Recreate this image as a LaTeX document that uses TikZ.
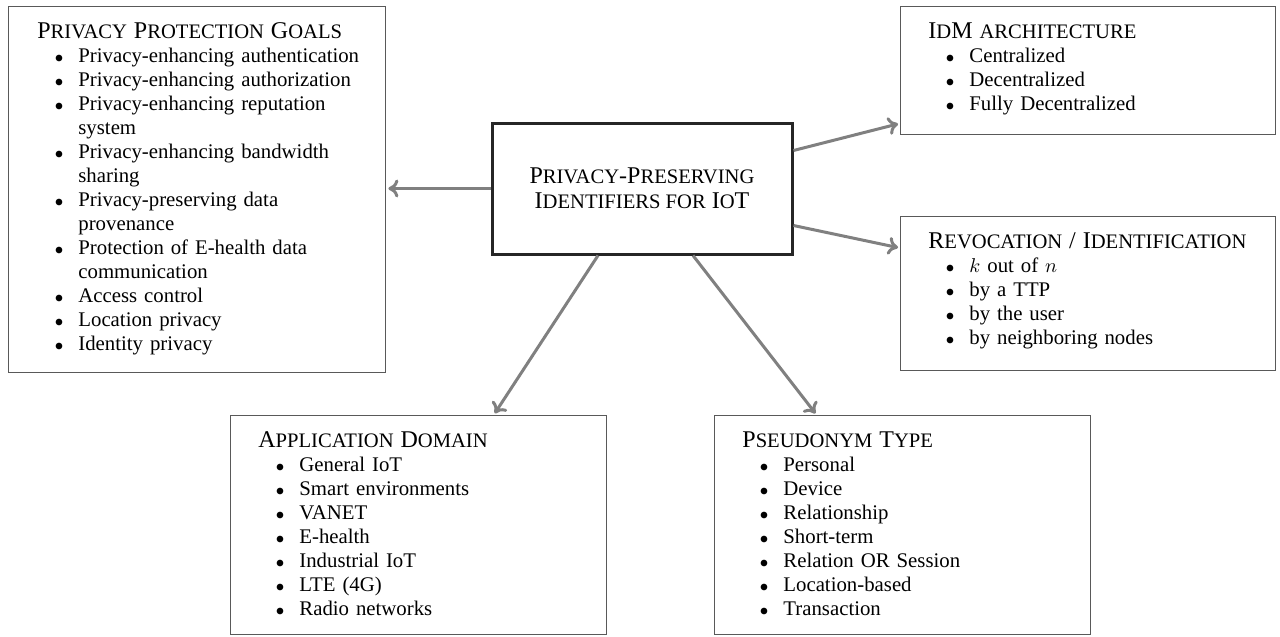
\documentclass[tikz,border=0pt]{standalone}
\usepackage{fontspec}
\setmainfont{Liberation Serif}
\usepackage{enumitem}
\usetikzlibrary{arrows.meta}
\hyphenpenalty=10000
\exhyphenpenalty=10000
\newcommand\scp[1]{{\fontsize{10.3pt}{12pt}\selectfont #1}}
\newcommand\boxtitle[1]{{\fontsize{12pt}{12pt}\selectfont #1\par}}
\newenvironment{pitems}{\begin{itemize}[nosep,leftmargin=20.5pt,labelsep=7.5pt,
    label={\fontsize{8.5pt}{10pt}\selectfont$\bullet$}]}{\end{itemize}}

\begin{document}
\begin{tikzpicture}[x=0.5pt,y=-0.5pt]
            \tikzset{
                box/.style={draw=black!65,line width=0.7pt,anchor=north west,inner sep=0pt},
                boxtext/.style={anchor=north west,inner sep=0pt,text width=170pt,align=left,
                    font=\fontsize{10.4pt}{12pt}\selectfont},
                mainbox/.style={draw=black!85,line width=1.5pt,minimum width=150pt,minimum height=65.5pt,
                    align=center,font=\fontsize{12pt}{12.5pt}\selectfont},
                link/.style={draw=black!50,line width=1.5pt,-{To[length=5pt,width=9pt]},shorten >=1pt},}
            \useasboundingbox (0,0) rectangle (1280,637);
            \node [mainbox] (core) at (642,188.5) {P\scp{RIVACY}-P\scp{RESERVING}\\I\scp{DENTIFIERS FOR} I\scp{O}T};
            % outer boxes
            \node [box,minimum width=188.5pt,minimum height=183pt] (goals) at (8,6) {};
            \node [box,minimum width=187.5pt,minimum height=64pt] (idm) at (900,6) {};
            \node [box,minimum width=187.5pt,minimum height=77pt] (revoc) at (900,216) {};
            \node [box,minimum width=188pt,minimum height=109.5pt] (appdom) at (230,415) {};
            \node [box,minimum width=188pt,minimum height=109.5pt] (pseud) at (714,415) {};
            \node [boxtext,text width=166.5pt] (goalstext) at ([xshift=14.5pt,yshift=-8pt]goals.north west) {
                \boxtitle{P\scp{RIVACY} P\scp{ROTECTION} G\scp{OALS}}
                \begin{pitems}
                    \item Privacy-enhancing authentication
                    \item Privacy-enhancing authorization
                    \item Privacy-enhancing reputation system
                    \item Privacy-enhancing bandwidth sharing
                    \item Privacy-preserving data provenance
                    \item Protection of E-health data communication
                    \item Access control
                    \item Location privacy
                    \item Identity privacy
                \end{pitems}};
            \node [boxtext] (idmtext) at ([xshift=14pt,yshift=-8pt]idm.north west) {
                \boxtitle{I\scp{D}M \scp{ARCHITECTURE}}
                \begin{pitems}
                    \item Centralized
                    \item Decentralized
                    \item Fully Decentralized
                \end{pitems}};
            \node [boxtext] (revoctext) at ([xshift=14pt,yshift=-8pt]revoc.north west) {
                \boxtitle{R\scp{EVOCATION} / I\scp{DENTIFICATION}}
                \begin{pitems}
                    \item $k$ out of $n$
                    \item by a TTP
                    \item by the user
                    \item by neighboring nodes
                \end{pitems}};
            \node [boxtext] (appdomtext) at ([xshift=14pt,yshift=-8pt]appdom.north west) {
                \boxtitle{A\scp{PPLICATION} D\scp{OMAIN}}
                \begin{pitems}
                    \item General IoT
                    \item Smart environments
                    \item VANET
                    \item E-health
                    \item Industrial IoT
                    \item LTE (4G)
                    \item Radio networks
                \end{pitems}};
            \node [boxtext] (pseudtext) at ([xshift=14pt,yshift=-8pt]pseud.north west) {
                \boxtitle{P\scp{SEUDONYM} T\scp{YPE}}
                \begin{pitems}
                    \item Personal
                    \item Device
                    \item Relationship
                    \item Short-term
                    \item Relation OR Session
                    \item Location-based
                    \item Transaction
                \end{pitems}};
            % arrows
            \draw [link] (core.west) -- (core.west -| goals.east);
            \draw [link] ([yshift=19pt]core.east) -- ([yshift=6pt]idm.south west);
            \draw [link] ([yshift=-18.5pt]core.east) -- ([yshift=-16pt]revoc.north west);
            \draw [link] ([xshift=-22pt]core.south) -- ([xshift=37.5pt]appdom.north);
            \draw [link] ([xshift=25.5pt]core.south) -- ([xshift=-43pt]pseud.north);
        \end{tikzpicture}
\end{document}
